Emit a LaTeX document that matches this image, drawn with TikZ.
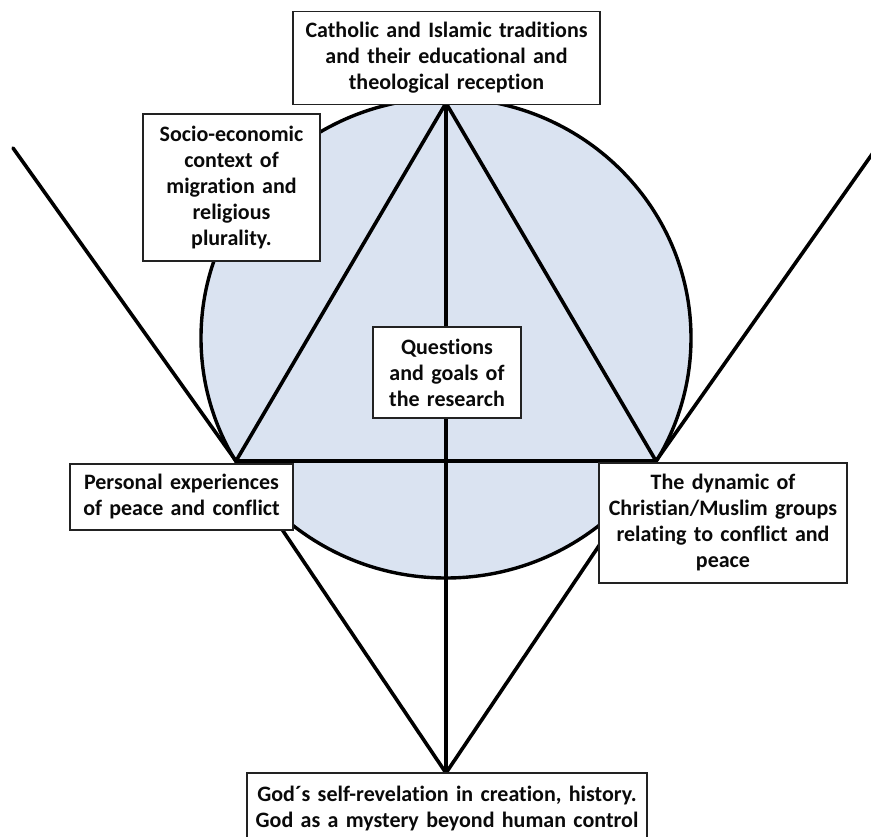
\documentclass[tikz,border=0pt]{standalone}
\usepackage{fontspec}
\setmainfont{Carlito}[Ligatures={NoCommon}]
\definecolor{circfill}{HTML}{DAE3F1}
\definecolor{boxline}{HTML}{222222}
\definecolor{txt}{HTML}{0A0A0A}
\tikzset{
  box/.style={draw=boxline, line width=1.8pt, fill=white, inner sep=0pt, align=center,
    text=txt, font=\bfseries\fontsize{22}{26}\selectfont},
  conn/.style={line width=3.6pt, black, line cap=round, line join=round}
}
\begin{document}
\begin{tikzpicture}[x=1pt,y=-1pt]
\useasboundingbox (0,0) rectangle (871,837);
\clip (0,0) rectangle (871,837);
% circle
\fill[circfill, draw=black, line width=3.4pt] (446,338) ellipse [x radius=245, y radius=240];
% free ends and vertices
\coordinate (ul) at (13,148);
\coordinate (ur) at (875,150);
\coordinate (bl) at (236,461);
\coordinate (br) at (656,461);
\coordinate (apex) at (446,103);
\coordinate (foot) at (446,773);
% lines
\draw[conn] (ul) -- (bl) -- (apex) -- (br) -- (ur);
\draw[conn] (bl) -- (br);
\draw[conn] (apex) -- (foot);
\draw[conn] (bl) -- (foot) -- (br);
% boxes
\node[box, minimum width=307pt, minimum height=93pt, text width=300pt] (top) at (446.5,58)
  {Catholic and Islamic traditions\\and their educational and\\theological reception};
\node[box, minimum width=177pt, minimum height=147pt, text width=170pt] (socio) at (231.5,187.5)
  {Socio-economic\\context of\\migration and\\religious\\plurality.};
\node[box, minimum width=148pt, minimum height=91pt, text width=140pt] (center) at (447,372.5)
  {Questions\\and goals of\\the research};
\node[box, minimum width=223pt, minimum height=66pt, text width=215pt] (pers) at (181.5,497)
  {Personal experiences\\of peace and conflict};
\node[box, minimum width=248pt, minimum height=120pt, text width=240pt] (dyn) at (723,523)
  {The dynamic of\\Christian/Muslim groups\\relating to conflict and\\peace};
\node[box, minimum width=400pt, minimum height=72pt, text width=392pt] (bot) at (447,809)
  {God´s self-revelation in creation, history.\\God as a mystery beyond human control};
\end{tikzpicture}
\end{document}
